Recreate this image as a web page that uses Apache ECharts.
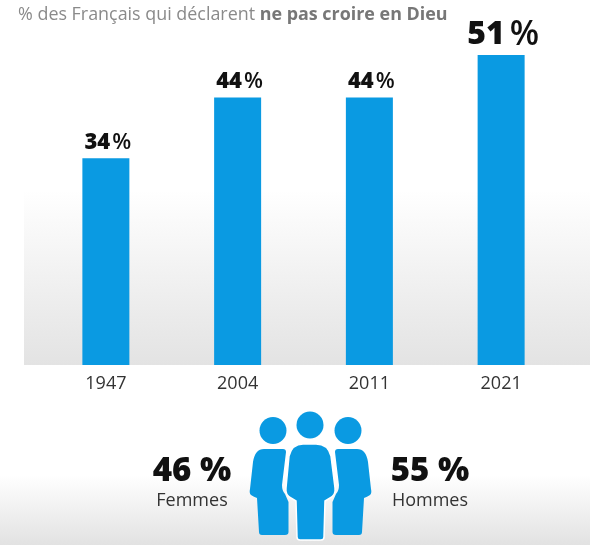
<!DOCTYPE html>
<html>
<head>
<meta charset="utf-8">
<style>
html, body { margin: 0; padding: 0; background: #fff; }
#chart { width: 600px; height: 547px; }
</style>
<script src="https://cdn.jsdelivr.net/npm/echarts@6/dist/echarts.min.js"></script>
</head>
<body>
<div id="chart"></div>
<script>
var years = ['1947', '2004', '2011', '2021'];
var values = [34, 44, 44, 51];
var genderLabels = ['Femmes', 'Hommes'];
var genderValues = [46, 55];

var FONT = '"Open Sans", "Noto Sans", sans-serif';
var BLUE = '#0a9ae2';

var fade = function (from, to) {
    return new echarts.graphic.LinearGradient(0, 0, 0, 1, [
        { offset: 0, color: from },
        { offset: 1, color: to }
    ]);
};

// silhouettes of the people, the right one is the left one mirrored
echarts.graphic.registerShape('sidePerson', echarts.graphic.extendPath(
    'M264 449 L283 449 Q286 449 286 452 L282 485 Q282 491 285 494 L288.5 502 L288.5 532 Q288.5 535 285 535 L262 535 Q259 535 259 532 L257 498 Q254 497 251 495 Q249 493 250 489 L253 462 Q255 449 264 449 Z'
));
echarts.graphic.registerShape('midPerson', echarts.graphic.extendPath(
    'M303 444 L316 444 Q328 444 331 456 L335 488 Q336 495 330 498 L325 501 L324 537 Q324 540 321 540 L300 540 Q297 540 297 537 L296 501 L291 498 Q285 495 286 488 L289 456 Q292 444 303 444 Z'
));

var chart = echarts.init(document.getElementById('chart'));
chart.setOption({
    animation: false,
    textStyle: { fontFamily: FONT },
    grid: { left: 40, right: 33, top: 55, bottom: 182 },
    xAxis: {
        type: 'category',
        data: years,
        axisLine: { show: false },
        axisTick: { show: false },
        axisLabel: { color: '#333', fontSize: 18, margin: 10 }
    },
    yAxis: { type: 'value', min: 0, max: 51, show: false },
    series: [{
        type: 'bar',
        data: values,
        barWidth: 47,
        z: 3,
        itemStyle: { color: BLUE },
        label: {
            show: true,
            position: 'top',
            distance: 5,
            offset: [2, 0],
            formatter: function (p) {
                return p.value === 51 ? '{big|' + p.value + '}{bigp|%}' : '{num|' + p.value + '}{pct|%}';
            },
            rich: {
                num: { fontSize: 22, fontWeight: 800, color: '#111', fontFamily: FONT },
                pct: { fontSize: 22, fontWeight: 600, color: '#111', fontFamily: FONT, padding: [0, 0, 0, 2] },
                big: { fontSize: 32, fontWeight: 800, color: '#111', fontFamily: FONT, lineHeight: 30 },
                bigp: { fontSize: 34, fontWeight: 600, color: '#111', fontFamily: FONT, lineHeight: 30, padding: [0, 0, 0, 5] }
            }
        }
    }],
    graphic: [
        { type: 'rect', z: -1, shape: { x: 24, y: 190, width: 566, height: 175 }, style: { fill: fade('#ffffff', '#e3e3e3') } },
        { type: 'rect', z: -1, shape: { x: 0, y: 475, width: 590, height: 70 }, style: { fill: fade('#ffffff', '#e2e2e2') } },
        {
            type: 'text', x: 18, y: 15,
            style: {
                text: '{a|% des Français qui déclarent }{b|ne pas croire en Dieu}',
                verticalAlign: 'middle',
                rich: {
                    a: { fontSize: 17.9, fill: '#8a8a8a', fontFamily: FONT },
                    b: { fontSize: 17.9, fontWeight: 700, fill: '#777', fontFamily: FONT }
                }
            }
        },
        { type: 'text', x: 192, y: 472, style: { text: genderValues[0] + ' %', font: '800 33px ' + FONT, fill: '#111', align: 'center', verticalAlign: 'middle' } },
        { type: 'text', x: 192, y: 501, style: { text: genderLabels[0], font: '18px ' + FONT, fill: '#333', align: 'center', verticalAlign: 'middle' } },
        { type: 'text', x: 430, y: 472, style: { text: genderValues[1] + ' %', font: '800 33px ' + FONT, fill: '#111', align: 'center', verticalAlign: 'middle' } },
        { type: 'text', x: 430, y: 501, style: { text: genderLabels[1], font: '18px ' + FONT, fill: '#333', align: 'center', verticalAlign: 'middle' } },
        { type: 'circle', shape: { cx: 273, cy: 430.5, r: 13.5 }, style: { fill: BLUE } },
        { type: 'circle', shape: { cx: 310, cy: 425, r: 13.5 }, style: { fill: BLUE } },
        { type: 'circle', shape: { cx: 348, cy: 430.5, r: 13.5 }, style: { fill: BLUE } },
        { type: 'sidePerson', style: { fill: BLUE } },
        { type: 'sidePerson', x: 621, scaleX: -1, style: { fill: BLUE } },
        { type: 'midPerson', style: { fill: BLUE, stroke: '#fff', lineWidth: 1.5 } }
    ]
});
</script>
</body>
</html>
